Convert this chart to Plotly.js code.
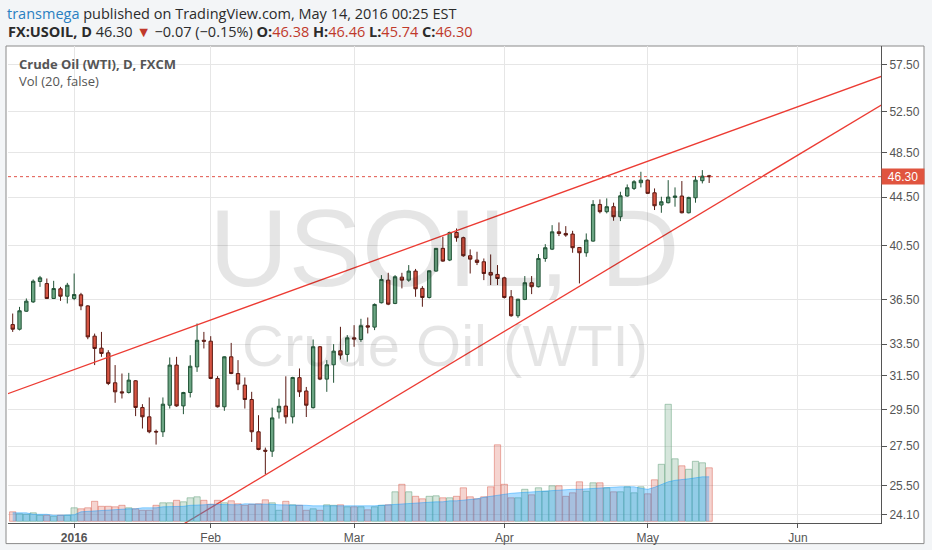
<!DOCTYPE html>
<html>
<head>
<meta charset="utf-8">
<script src="https://cdn.plot.ly/plotly-3.0.1.min.js"></script>
<style>
  html, body { margin: 0; padding: 0; background: #f3f5f7; }
  #chart { width: 932px; height: 550px; }
</style>
</head>
<body>
<div id="chart"></div>
<script>
// daily bars, FX:USOIL (FXCM)
var dates = [
  '2015-12-18','2015-12-21','2015-12-22','2015-12-23','2015-12-24','2015-12-28','2015-12-29','2015-12-30','2015-12-31',
  '2016-01-04','2016-01-05','2016-01-06','2016-01-07','2016-01-08',
  '2016-01-11','2016-01-12','2016-01-13','2016-01-14','2016-01-15',
  '2016-01-18','2016-01-19','2016-01-20','2016-01-21','2016-01-22',
  '2016-01-25','2016-01-26','2016-01-27','2016-01-28','2016-01-29',
  '2016-02-01','2016-02-02','2016-02-03','2016-02-04','2016-02-05',
  '2016-02-08','2016-02-09','2016-02-10','2016-02-11','2016-02-12',
  '2016-02-15','2016-02-16','2016-02-17','2016-02-18','2016-02-19',
  '2016-02-22','2016-02-23','2016-02-24','2016-02-25','2016-02-26','2016-02-29',
  '2016-03-01','2016-03-02','2016-03-03','2016-03-04',
  '2016-03-07','2016-03-08','2016-03-09','2016-03-10','2016-03-11',
  '2016-03-14','2016-03-15','2016-03-16','2016-03-17','2016-03-18',
  '2016-03-21','2016-03-22','2016-03-23','2016-03-24',
  '2016-03-28','2016-03-29','2016-03-30','2016-03-31',
  '2016-04-01','2016-04-04','2016-04-05','2016-04-06','2016-04-07','2016-04-08',
  '2016-04-11','2016-04-12','2016-04-13','2016-04-14','2016-04-15',
  '2016-04-18','2016-04-19','2016-04-20','2016-04-21','2016-04-22',
  '2016-04-25','2016-04-26','2016-04-27','2016-04-28','2016-04-29',
  '2016-05-02','2016-05-03','2016-05-04','2016-05-05','2016-05-06',
  '2016-05-09','2016-05-10','2016-05-11','2016-05-12','2016-05-13'
];

var opens = [
  34.79,34.48,35.70,36.35,37.81,37.66,36.59,37.28,36.75,
  36.59,36.85,36.07,34.02,33.24,32.94,31.09,30.55,30.51,31.21,
  29.64,29.11,28.30,28.28,29.77,32.17,29.73,30.51,32.06,33.75,
  33.69,31.35,29.68,32.69,31.65,30.95,30.10,28.28,27.29,27.24,
  29.39,29.72,29.11,31.40,30.60,29.63,33.33,31.31,32.19,33.07,32.84,
  33.91,33.80,34.71,34.62,36.29,37.91,36.24,38.13,37.91,38.58,
  37.31,36.66,38.58,40.31,39.41,41.57,41.15,39.74,39.41,39.28,38.48,38.33,
  38.08,36.71,35.39,36.52,37.72,37.43,39.53,40.25,41.62,41.49,
  41.44,40.38,39.97,40.88,43.88,43.27,43.69,42.85,44.60,45.26,45.76,
  45.99,44.88,43.83,44.03,44.48,44.60,43.18,44.45,45.94,46.38
];
var highs = [
  35.54,36.00,36.59,37.96,38.22,38.03,37.86,37.42,37.71,
  38.40,36.99,36.12,34.19,34.30,33.11,32.17,31.65,31.69,31.25,
  29.83,30.22,28.40,30.22,32.65,32.69,30.55,32.79,34.86,34.30,
  34.02,31.49,32.72,33.58,32.48,31.41,30.55,29.20,27.43,29.63,
  30.15,31.48,31.45,31.96,30.84,33.80,33.37,32.48,33.50,34.64,34.09,
  34.75,35.18,35.27,36.24,38.28,38.45,38.28,38.45,39.03,38.74,
  37.47,38.62,40.33,41.23,41.63,41.89,41.23,40.23,40.05,39.53,39.84,39.03,
  38.16,37.19,36.56,38.21,38.21,39.87,40.64,42.16,42.38,42.08,
  41.70,40.40,41.49,44.25,44.31,44.40,44.03,44.97,45.61,45.99,46.74,
  46.05,45.26,44.54,45.99,45.35,45.91,44.54,46.35,46.89,46.46
];
var lows = [
  34.30,34.40,35.66,36.28,37.42,36.55,36.55,36.42,36.24,
  36.47,35.77,33.82,32.17,32.69,30.95,29.91,30.16,30.45,29.15,
  28.46,28.20,27.59,28.00,29.58,29.68,29.26,30.22,31.75,33.22,
  31.31,29.64,29.45,31.61,30.65,29.58,27.73,27.29,26.05,26.94,
  29.01,28.73,28.74,30.25,29.10,29.58,31.25,30.55,31.09,32.52,32.38,
  33.33,33.65,34.20,34.42,36.24,36.12,36.19,37.31,37.79,36.71,
  36.01,36.59,38.53,39.28,39.33,40.83,39.66,38.40,39.03,37.91,37.55,37.55,
  36.59,35.32,35.25,36.47,36.90,37.38,39.28,40.18,41.28,41.22,
  39.97,37.67,39.66,40.83,43.13,43.13,42.52,42.49,44.54,45.12,45.35,
  44.77,43.41,43.18,43.97,43.69,43.13,43.13,44.03,45.70,45.74
];
var closes = [
  34.48,35.73,36.40,37.83,38.08,36.59,37.30,36.75,37.54,
  36.87,36.07,33.97,33.22,32.90,31.05,30.55,30.49,31.25,29.64,
  29.11,28.28,28.27,29.83,32.17,29.73,30.51,32.10,33.75,33.69,
  31.35,29.68,32.69,31.65,31.01,30.10,28.28,27.33,27.24,29.05,
  29.71,29.11,31.41,30.55,29.77,33.33,31.31,32.19,33.05,32.80,33.91,
  33.83,34.71,34.62,36.17,37.96,36.19,38.16,37.91,38.58,37.28,
  36.66,38.60,40.31,39.33,41.57,41.15,39.74,39.48,39.23,38.40,38.28,38.03,
  36.66,35.39,36.54,37.72,37.43,39.53,40.36,41.62,41.49,41.36,
  40.36,39.97,40.96,43.88,43.27,43.69,42.85,44.62,45.32,45.85,45.99,
  44.83,43.77,44.11,44.51,44.60,43.18,44.48,45.99,46.35,46.30
];

// volume and its 20-bar average, as drawn
var volumes = [
  19,15,14,17,12,12,10,12,12,
  27,25,27,40,30,30,29,32,27,25,
  22,22,32,37,37,42,39,47,49,42,
  34,42,37,41,35,32,34,35,43,37,
  22,40,33,32,22,25,22,33,32,33,29,
  29,29,23,29,32,33,59,74,59,50,
  45,50,51,47,47,50,67,49,45,49,69,153,
  74,47,47,64,53,67,60,71,71,50,
  57,79,60,77,77,67,59,59,69,57,69,
  55,83,114,234,125,111,104,120,117,107
];
var volumeAvg = [
  17,17,17,14,14,14,12,12,12,
  13,19,20,21,22,22,23,24,25,25,
  27,27,27,29,29,30,30,32,32,33,
  34,34,34,34,33,35,35,34,34,34,
  33,33,32,32,32,31,31,31,31,31,31,
  30,30,31,31,32,33,34,35,35,36,
  38,38,39,39,41,41,42,43,45,48,50,52,
  55,56,57,58,59,60,60,62,62,63,
  64,64,65,65,67,67,68,69,69,69,66,
  64,68,74,79,82,83,85,87,89,89
];

// month ticks sit on the first bar of each month
var monthTicks = ['2016-01-04','2016-02-01','2016-03-01','2016-04-01','2016-05-02','2016-06-01'];
var monthLabels = ['2016','Feb','Mar','Apr','May','Jun'];
var priceTicks = [24.10,25.50,27.50,29.50,31.50,33.50,36.50,40.50,44.50,48.50,52.50,57.50];
var holidays = ['2015-12-25','2016-01-01','2016-03-25'];

// hand-drawn trend channel (two anchor points each)
var upperLineDates = ['2015-12-17','2016-06-20'];
var upperLinePrices = [30.40, 56.96];
var lowerLineDates = ['2016-01-25','2016-06-20'];
var lowerLinePrices = [23.47, 54.37];

var xRange = ['2015-12-17 07:30','2016-06-17 04:00'];
var priceRange = [23.71, 59.60];

var upColor = '#6ba583', downColor = '#d75442';
var lastClose = closes[closes.length - 1];

var volColors = [], volLines = [];
for (var i = 0; i < closes.length; i++) {
  var up = closes[i] >= opens[i];
  volColors.push(up ? 'rgba(107,165,131,0.28)' : 'rgba(215,84,66,0.25)');
  volLines.push(up ? 'rgba(107,165,131,0.55)' : 'rgba(215,84,66,0.45)');
}

var candles = {
  type: 'candlestick',
  x: dates, open: opens, high: highs, low: lows, close: closes,
  increasing: {fillcolor: upColor, line: {color: '#225437', width: 1}},
  decreasing: {fillcolor: downColor, line: {color: '#5b1a13', width: 1}},
  whiskerwidth: 0,
  hoverinfo: 'skip',
  showlegend: false
};

var lastLine = {
  type: 'scatter', mode: 'lines',
  x: xRange, y: [lastClose, lastClose],
  line: {color: '#e0544a', width: 1, dash: 'dot'},
  hoverinfo: 'skip', showlegend: false
};

var upperLine = {
  type: 'scatter', mode: 'lines',
  x: upperLineDates, y: upperLinePrices,
  line: {color: '#ec3b33', width: 1.3},
  hoverinfo: 'skip', showlegend: false
};
var lowerLine = {
  type: 'scatter', mode: 'lines',
  x: lowerLineDates, y: lowerLinePrices,
  line: {color: '#ec3b33', width: 1.3},
  hoverinfo: 'skip', showlegend: false
};

var volBars = {
  type: 'bar',
  x: dates, y: volumes,
  yaxis: 'y2',
  marker: {color: volColors, line: {color: volLines, width: 1}},
  hoverinfo: 'skip', showlegend: false
};
var volArea = {
  type: 'scatter', mode: 'lines',
  x: dates, y: volumeAvg,
  yaxis: 'y2',
  fill: 'tozeroy',
  fillcolor: 'rgba(4,150,255,0.32)',
  line: {color: 'rgba(4,150,255,0.4)', width: 1},
  hoverinfo: 'skip', showlegend: false
};

var tickText = monthLabels.map(function (t, i) { return i === 0 ? '<b>' + t + '</b>' : t; });

var headFont = {family: 'Open Sans, sans-serif', size: 14.5, color: '#2b2b2b'};
var red = '#c0392b';

var layout = {
  width: 932, height: 550,
  margin: {l: 8, r: 51, t: 46, b: 27},
  paper_bgcolor: '#f3f5f7',
  plot_bgcolor: '#ffffff',
  hovermode: false,
  showlegend: false,
  bargap: 0.08,
  font: {family: 'Liberation Sans, Arial, sans-serif', size: 12, color: '#555'},
  xaxis: {
    type: 'date',
    range: xRange,
    rangebreaks: [{bounds: ['sat', 'mon']}, {values: holidays}],
    rangeslider: {visible: false},
    tickmode: 'array', tickvals: monthTicks, ticktext: tickText,
    showgrid: true, gridcolor: '#e6e6e6', gridwidth: 1,
    ticks: 'outside', ticklen: 4, tickcolor: '#555',
    showline: true, linecolor: '#555', linewidth: 1,
    tickfont: {size: 12, color: '#555'},
    zeroline: false, fixedrange: true
  },
  yaxis: {
    type: 'log',
    side: 'right',
    range: [Math.log10(priceRange[0]), Math.log10(priceRange[1])],
    tickmode: 'array', tickvals: priceTicks,
    ticktext: priceTicks.map(function (v) { return v.toFixed(2); }),
    showgrid: true, gridcolor: '#e6e6e6', gridwidth: 1,
    ticks: 'outside', ticklen: 5, tickcolor: '#555',
    showline: true, linecolor: '#555', linewidth: 1,
    tickfont: {size: 12, color: '#555'},
    zeroline: false, fixedrange: true
  },
  yaxis2: {
    overlaying: 'y',
    range: [-3.4, 950.6],
    visible: false,
    fixedrange: true
  },
  shapes: [
    // white chart panel with its frame
    {type: 'rect', xref: 'paper', yref: 'paper', layer: 'below',
     x0: -2 / 873, x1: 916 / 873, y0: -20.6 / 477, y1: 1,
     fillcolor: '#ffffff', line: {color: '#8a8a8a', width: 1}}
  ],
  annotations: [
    {xref: 'paper', yref: 'paper', x: 0, y: 1, xanchor: 'left', yanchor: 'middle',
     xshift: -3, yshift: 33, showarrow: false, font: headFont,
     text: '<span style="color:#2a7fc1">transmega</span> published on TradingView.com, May 14, 2016 00:25 EST'},
    {xref: 'paper', yref: 'paper', x: 0, y: 1, xanchor: 'left', yanchor: 'middle',
     xshift: -2, yshift: 14.5, showarrow: false, font: headFont,
     text: '<b>FX:USOIL, D</b> 46.30 <span style="color:' + red + '">▼</span> −0.07 (−0.15%) ' +
           '<b>O:</b><span style="color:' + red + '">46.38</span> ' +
           '<b>H:</b><span style="color:' + red + '">46.46</span> ' +
           '<b>L:</b><span style="color:' + red + '">45.74</span> ' +
           '<b>C:</b><span style="color:' + red + '">46.30</span>'},
    {xref: 'paper', yref: 'paper', x: 0, y: 1, xanchor: 'left', yanchor: 'middle',
     xshift: 9, yshift: -18, showarrow: false,
     font: {family: 'Open Sans, sans-serif', size: 13, color: '#555'},
     text: '<b>Crude Oil (WTI), D, FXCM</b>'},
    {xref: 'paper', yref: 'paper', x: 0, y: 1, xanchor: 'left', yanchor: 'middle',
     xshift: 9, yshift: -35, showarrow: false,
     font: {family: 'Open Sans, sans-serif', size: 13, color: '#555'},
     text: 'Vol (20, false)'},
    // watermark
    {xref: 'paper', yref: 'paper', x: 0.5, y: 0.577, xanchor: 'center', yanchor: 'middle',
     showarrow: false,
     font: {family: 'Liberation Sans, Arial, sans-serif', size: 110, color: 'rgba(0,0,0,0.1)'},
     text: 'USOIL, D'},
    {xref: 'paper', yref: 'paper', x: 0.5, y: 0.373, xanchor: 'center', yanchor: 'middle',
     showarrow: false,
     font: {family: 'Liberation Sans, Arial, sans-serif', size: 58, color: 'rgba(0,0,0,0.1)'},
     text: 'Crude Oil (WTI)'},
    // last price tag on the price scale
    {xref: 'paper', yref: 'y', x: 1, y: Math.log10(lastClose), xanchor: 'left', yanchor: 'middle',
     showarrow: false, bgcolor: '#e0543f', borderpad: 2, width: 38, height: 11,
     font: {family: 'Liberation Sans, Arial, sans-serif', size: 12, color: '#ffffff'},
     text: lastClose.toFixed(2)}
  ]
};

Plotly.newPlot('chart', [candles, upperLine, lowerLine, lastLine, volBars, volArea], layout, {displayModeBar: false, staticPlot: true});
</script>
</body>
</html>
